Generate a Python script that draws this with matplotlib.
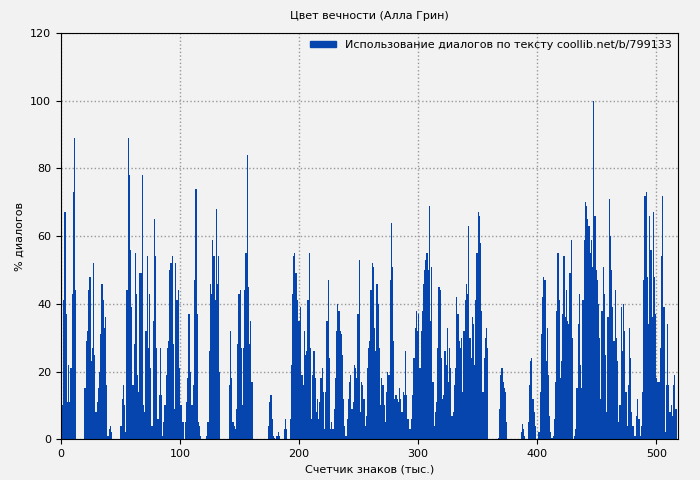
import numpy as np
import matplotlib.pyplot as plt
from matplotlib.patches import Patch

# dialogue share per 1000 characters
cluster_starts = [0, 19, 39, 50, 85, 104, 122, 141, 174, 192, 210, 240, 251, 292,
                  329, 367, 386, 401, 431, 468, 488, 508]
cluster_values = [
    [3, 10, 41, 67, 37, 11, 22, 11, 21, 43, 73, 89, 44],
    [15, 15, 29, 32, 44, 48, 23, 27, 52, 25, 8, 11, 15, 20, 31, 46, 41, 33, 36, 16],
    [1, 3, 4, 2],
    [4, 12, 16, 10, 2, 44, 89, 78, 56, 39, 16, 28, 55, 43, 19, 14, 49, 49, 78, 10,
     8, 32, 54, 27, 43, 21, 4, 35, 65, 54, 27, 6, 13, 27, 13],
    [1, 5, 10, 19, 27, 29, 50, 52, 54, 28, 9, 52, 41, 44, 21, 10, 10, 5],
    [5, 11, 18, 37, 20, 10, 10, 16, 47, 74, 37, 5, 4, 1],
    [1, 5, 26, 46, 43, 59, 54, 41, 68, 46, 54, 20],
    [16, 32, 18, 5, 4, 3, 9, 28, 43, 44, 27, 10, 27, 44, 55, 84, 45, 28, 35, 17],
    [4, 11, 13, 6, 1, 0.5, 0, 1, 2, 1, 0, 0, 0, 3, 6, 3],
    [6, 22, 43, 54, 55, 49, 41, 35, 35, 39, 19, 16, 32, 25, 26, 41, 55, 27],
    [6, 19, 26, 18, 8, 12, 6, 11, 18, 21, 14, 3, 14, 35, 47, 24, 3, 5, 3, 9,
     18, 32, 40, 38, 32, 31, 25, 12, 4, 1],
    [6, 12, 17, 19, 9, 11, 22, 21, 18, 37, 53],
    [8, 17, 16, 12, 4, 7, 21, 27, 29, 44, 52, 51, 33, 26, 46, 40, 27, 10, 18, 16,
     10, 5, 14, 20, 19, 47, 64, 51, 29, 12, 13, 12, 11, 15, 12, 8, 14, 13, 26, 13, 6],
    [3, 3, 6, 13, 24, 33, 38, 32, 37, 21, 32, 38, 46, 50, 53, 55, 50, 69, 35, 51,
     17, 4, 8, 11, 27, 45, 44, 24, 12, 13, 26, 22, 33, 17, 27, 21, 7],
    [8, 16, 21, 42, 37, 29, 27, 30, 14, 32, 41, 46, 43, 63, 30, 24, 36, 34, 22, 41,
     55, 67, 66, 58, 38, 14, 24, 30, 33, 27],
    [0.3, 9, 19, 21, 17, 15, 14, 5],
    [2, 4.6, 3, 1, 0, 0, 5, 16, 23, 24, 12, 8, 4],
    [2, 14, 31, 42, 48, 47, 23, 33, 19, 7, 2, 0.3, 1, 6, 17, 38, 55, 41, 18, 23,
     37, 54, 36, 44, 35, 34, 49, 59, 30],
    [1, 3, 15, 34, 43, 22, 15, 41, 59, 70, 69, 65, 63, 55, 59, 51, 100, 66, 50, 47,
     40, 30, 12, 38, 51, 43, 25, 8, 36, 71, 60, 50, 39, 29, 44, 30, 23],
    [5, 10, 39, 26, 40, 32, 14, 4, 16, 33, 24, 8, 4, 1, 1, 7, 12, 6, 1, 4],
    [14, 47, 72, 73, 48, 34, 66, 56, 36, 67, 48, 37, 18, 17, 17, 27, 54, 72, 39, 2],
    [16, 34, 16, 8, 10, 7, 16, 19, 9],
]

# put the clusters onto one 1k-character axis
n = 518
dialog = np.zeros(n)
for start, vals in zip(cluster_starts, cluster_values):
    dialog[start:start + len(vals)] = vals[:n - start]
positions = np.arange(n)

bg = '#f2f2f2'
blue = '#0645ad'

fig = plt.figure(figsize=(7, 4.8), dpi=100, facecolor=bg)
ax = fig.add_axes([0.087, 0.085, 0.882, 0.846], facecolor=bg)

ax.bar(positions, dialog, width=1.0, align='edge', color=blue, linewidth=0)

ax.set_xlim(0, 518.5)
ax.set_ylim(0, 120)
ax.set_xticks([0, 100, 200, 300, 400, 500])
ax.set_yticks(range(0, 121, 20))
ax.tick_params(labelsize=8)
ax.grid(True, linestyle=':', color='#999999', linewidth=1)
ax.set_axisbelow(True)

ax.set_title('Цвет вечности (Алла Грин)', fontsize=8, pad=10)
ax.set_xlabel('Счетчик знаков (тыс.)', fontsize=8)
ax.set_ylabel('% диалогов', fontsize=8)

ax.legend([Patch(color=blue)], ['Использование диалогов по тексту coollib.net/b/799133'],
          loc='upper right', fontsize=8, frameon=False, handlelength=2.3,
          handleheight=0.4, borderaxespad=0.2)

fig.savefig('out.png', dpi=100, facecolor=bg)
